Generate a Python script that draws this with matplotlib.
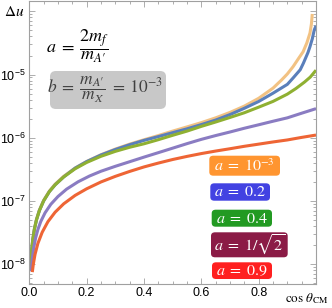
import matplotlib
matplotlib.use("Agg")
import matplotlib.pyplot as plt
from matplotlib.patches import FancyBboxPatch
from matplotlib.ticker import FixedLocator, LogLocator, NullFormatter, MultipleLocator

plt.rcParams['font.family'] = ['Liberation Sans', 'DejaVu Sans']
plt.rcParams['mathtext.fontset'] = 'custom'
plt.rcParams['mathtext.rm'] = 'Liberation Sans'
plt.rcParams['mathtext.it'] = 'Liberation Sans:italic'

# ---- data ----
x_orange = [0.004, 0.008, 0.012, 0.018, 0.025, 0.035, 0.05, 0.07, 0.09, 0.12, 0.16, 0.2, 0.25, 0.3, 0.35,
            0.4, 0.45, 0.5, 0.55, 0.6, 0.65, 0.7, 0.75, 0.8, 0.85, 0.88, 0.9, 0.92, 0.94, 0.955, 0.968,
            0.979, 0.984, 0.987]
y_orange = [8.2e-9, 1.63e-8, 2.45e-8, 3.67e-8, 5.1e-8, 7.1e-8, 1.02e-7, 1.43e-7, 1.84e-7, 2.45e-7, 3.31e-7,
            4.2e-7, 5.37e-7, 6.6e-7, 7.9e-7, 9.27e-7, 1.08e-6, 1.27e-6, 1.48e-6, 1.73e-6, 2.06e-6, 2.51e-6,
            3.16e-6, 4.2e-6, 6.08e-6, 8.2e-6, 1.02e-5, 1.33e-5, 1.82e-5, 2.29e-5, 3.16e-5, 4.54e-5,
            6.3e-5, 9.1e-5]

x_blue = [0.004, 0.008, 0.012, 0.018, 0.025, 0.035, 0.05, 0.07, 0.09, 0.12, 0.16, 0.2, 0.25, 0.3, 0.35,
          0.4, 0.45, 0.5, 0.55, 0.6, 0.65, 0.7, 0.75, 0.8, 0.85, 0.9, 0.92, 0.945, 0.956, 0.972, 0.979,
          0.987, 0.994, 1.0]
y_blue = [7.98e-9, 1.60e-8, 2.39e-8, 3.59e-8, 4.99e-8, 6.98e-8, 9.98e-8, 1.40e-7, 1.79e-7, 2.39e-7, 3.30e-7,
          4.18e-7, 5.32e-7, 6.49e-7, 7.74e-7, 9.06e-7, 1.04e-6, 1.20e-6, 1.38e-6, 1.61e-6, 1.90e-6, 2.32e-6,
          2.92e-6, 3.74e-6, 5.06e-6, 6.98e-6, 8.8e-6, 1.19e-5, 1.51e-5, 2.23e-5, 2.76e-5, 3.66e-5,
          5.09e-5, 5.89e-5]

x_green = [0.004, 0.008, 0.012, 0.018, 0.025, 0.035, 0.05, 0.07, 0.09, 0.12, 0.16, 0.2, 0.25, 0.3, 0.35,
           0.4, 0.45, 0.5, 0.55, 0.6, 0.65, 0.7, 0.75, 0.8, 0.85, 0.9, 0.93, 0.96, 0.98, 1.0]
y_green = [7.98e-9, 1.60e-8, 2.39e-8, 3.59e-8, 4.99e-8, 6.98e-8, 9.98e-8, 1.40e-7, 1.79e-7, 2.39e-7, 3.22e-7,
           4.05e-7, 5.07e-7, 6.07e-7, 7.05e-7, 8.0e-7, 9.29e-7, 1.09e-6, 1.27e-6, 1.51e-6, 1.77e-6, 2.09e-6,
           2.48e-6, 3.04e-6, 3.75e-6, 4.89e-6, 6.0e-6, 7.6e-6, 9.1e-6, 1.17e-5]

x_purple = [0.0065, 0.01, 0.015, 0.022, 0.03, 0.04, 0.055, 0.075, 0.1, 0.13, 0.17, 0.21, 0.25, 0.3, 0.35,
            0.4, 0.45, 0.5, 0.55, 0.6, 0.65, 0.7, 0.75, 0.8, 0.85, 0.9, 0.95, 1.0]
y_purple = [7.64e-9, 1.17e-8, 1.76e-8, 2.58e-8, 3.52e-8, 4.70e-8, 6.46e-8, 8.81e-8, 1.17e-7, 1.53e-7, 2.0e-7,
            2.47e-7, 2.94e-7, 3.52e-7, 4.16e-7, 4.92e-7, 5.79e-7, 6.82e-7, 8.04e-7, 9.4e-7, 1.08e-6, 1.23e-6,
            1.41e-6, 1.60e-6, 1.82e-6, 2.06e-6, 2.44e-6, 2.88e-6]

x_red = [0.0105, 0.014, 0.02, 0.03, 0.045, 0.065, 0.09, 0.12, 0.16, 0.2, 0.25, 0.3, 0.35, 0.4, 0.45, 0.5,
         0.55, 0.6, 0.65, 0.7, 0.75, 0.8, 0.85, 0.9, 0.95, 1.0]
y_red = [7.43e-9, 9.9e-9, 1.42e-8, 2.12e-8, 3.18e-8, 4.68e-8, 6.6e-8, 8.97e-8, 1.22e-7, 1.55e-7, 1.99e-7,
         2.44e-7, 2.92e-7, 3.44e-7, 3.96e-7, 4.51e-7, 5.05e-7, 5.6e-7, 6.14e-7, 6.68e-7, 7.3e-7, 7.9e-7,
         8.55e-7, 9.2e-7, 1.01e-6, 1.10e-6]

legend_labels = [r"$a\;=\;10^{-3}$", r"$a\;=\;0.2$", r"$a\;=\;0.4$", r"$a\;=\;1/\sqrt{2}$", r"$a\;=\;0.9$"]
x_ticks = [0.0, 0.2, 0.4, 0.6, 0.8]
x_ticklabels = ["0.0", "0.2", "0.4", "0.6", "0.8"]
y_ticks = [1e-8, 1e-7, 1e-6, 1e-5]
y_ticklabels = [r"$10^{-8}$", r"$10^{-7}$", r"$10^{-6}$", r"$10^{-5}$"]

line_colors = ["#f2c283", "#5a7fbb", "#8fb032", "#8a7cc2", "#ee6535"]
box_colors = ["#ff9530", "#4242e2", "#229a22", "#8b1b46", "#ff2020"]

fig = plt.figure(figsize=(3.32, 3.08), dpi=100)
ax = fig.add_axes([29.3/332, 1-284/308, (316-29.3)/332, (284-1)/308])

series = [(x_orange, y_orange), (x_blue, y_blue), (x_green, y_green), (x_purple, y_purple), (x_red, y_red)]
for (xs, ys), c in zip(series, line_colors):
    ax.plot(xs, ys, color=c, lw=2.2, solid_capstyle='butt', solid_joinstyle='round')

ax.set_yscale('log')
ax.set_xlim(0, 1)
ax.set_ylim(10**-8.317, 10**-3.836)

frame_c = "#a0a0a0"
for s in ax.spines.values():
    s.set_color(frame_c)
    s.set_linewidth(0.8)

ax.xaxis.set_major_locator(FixedLocator(x_ticks))
ax.set_xticklabels(x_ticklabels)
ax.xaxis.set_minor_locator(MultipleLocator(0.05))
ax.yaxis.set_major_locator(FixedLocator(y_ticks + [1e-4]))
ax.set_yticklabels(y_ticklabels + [""])
ax.yaxis.set_minor_locator(LogLocator(base=10, subs=range(2, 10)))
ax.yaxis.set_minor_formatter(NullFormatter())
ax.tick_params(which='both', direction='in', top=True, right=True, color=frame_c, labelsize=9, width=0.6)
ax.tick_params(which='major', length=4.5, pad=2.5)
ax.tick_params(which='minor', length=2.5)

# axis labels
fig.text(14/332, 1-12.5/308, r"$\Delta u$", fontsize=11, math_fontfamily='stix', ha='center', va='center')
fig.text(307/332, 1-299/308, r"$\cos\,\theta_{\rm CM}$", fontsize=9.5, math_fontfamily='stix', ha='center', va='center')

# annotations
fig.text(78/332, 1-46/308, r"$a\;=\;\dfrac{2m_f}{m_{A\prime}}$", fontsize=13, math_fontfamily='stix',
         ha='center', va='center')
gbox = FancyBboxPatch((50/332, 1-109/308), 116/332, 38/308, boxstyle="round,pad=0,rounding_size=0.018",
                      transform=fig.transFigure, facecolor="#c8c8c8", edgecolor='none')
fig.patches.append(gbox)
fig.text(105/332, 1-90/308, r"$b\;=\;\dfrac{m_{A\prime}}{m_X}\;=\;10^{-3}$", fontsize=12.5,
         math_fontfamily='stix', ha='center', va='center', color="#404040")

boxes = [(209.3, 155.7, 280, 175.7), (210.3, 183.3, 270, 200.7), (211.7, 209.7, 272, 226.7),
         (211, 232.3, 287.7, 257.3), (212, 262.3, 272, 279)]
for (x0, y0, x1, y1), lab, c in zip(boxes, legend_labels, box_colors):
    p = FancyBboxPatch((x0/332, 1-y1/308), (x1-x0)/332, (y1-y0)/308,
                       boxstyle="round,pad=0,rounding_size=0.012", transform=fig.transFigure,
                       facecolor=c, edgecolor='none')
    fig.patches.append(p)
    fig.text((x0+x1)/2/332, 1-(y0+y1)/2/308, lab, fontsize=11.5, math_fontfamily='stix',
             color='white', ha='center', va='center')

fig.savefig("out.png", dpi=100)
